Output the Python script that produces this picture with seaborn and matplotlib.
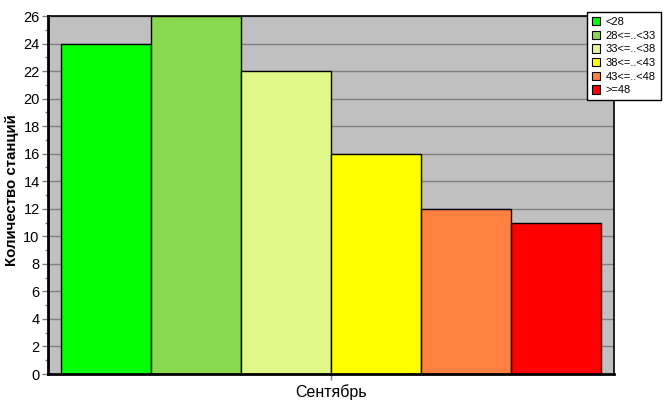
import matplotlib
matplotlib.use("Agg")
import matplotlib.pyplot as plt
import pandas as pd
import seaborn as sns
from matplotlib.ticker import MultipleLocator

# data
month = "Сентябрь"
ranges = ["<28", "28<=..<33", "33<=..<38", "38<=..<43", "43<=..<48", ">=48"]
counts = [24, 26, 22, 16, 12, 11]
colors = ["#00FF00", "#88D850", "#E0F888", "#FFFF00", "#FF8040", "#FF0000"]

df = pd.DataFrame({"month": [month] * len(ranges), "range": ranges, "count": counts})

sns.set_style("white")
plt.rcParams["font.family"] = ["Liberation Sans", "DejaVu Sans"]
plt.rcParams["text.color"] = "black"

fig = plt.figure(figsize=(6.67, 4.15), dpi=100)
ax = fig.add_axes([48 / 667, 1 - 374 / 415, (614 - 48) / 667, (374 - 16) / 415])
ax.set_facecolor("#C0C0C0")

sns.barplot(data=df, x="month", y="count", hue="range", palette=colors,
            width=540 / 566, gap=0, saturation=1, edgecolor="black",
            linewidth=1, ax=ax, legend=True)

ax.set_ylim(0, 26)
ax.set_xlim(-0.5, 0.5)
ax.yaxis.set_major_locator(MultipleLocator(2))
ax.yaxis.set_minor_locator(MultipleLocator(1))
ax.grid(axis="y", color="#808080", linewidth=1)
ax.set_axisbelow(True)

for s in ["top", "right"]:
    ax.spines[s].set_color("black")
    ax.spines[s].set_linewidth(1.2)
for s in ["left", "bottom"]:
    ax.spines[s].set_color("black")
    ax.spines[s].set_linewidth(2)

ax.tick_params(axis="y", which="major", direction="out", length=4, width=1,
               color="#808080", labelcolor="black", labelsize=10.5, pad=2, left=True)
ax.tick_params(axis="y", which="minor", direction="out", length=2, width=1,
               color="#808080", left=True)
ax.tick_params(axis="x", direction="out", length=4, width=1, color="#808080",
               labelcolor="black", labelsize=11.5, pad=3, bottom=True)

ax.set_xlabel("")
ax.set_ylabel("")
fig.text(12 / 667, 1 - 190 / 415, "Количество станций", rotation=90,
         ha="center", va="center", fontsize=10.8, fontweight="bold", color="black")

leg = ax.legend(loc="upper left", bbox_to_anchor=(587 / 667, 1 - 12 / 415),
                bbox_transform=fig.transFigure, fontsize=8, frameon=True,
                fancybox=False, edgecolor="black", framealpha=1,
                handlelength=0.75, handleheight=0.75, handletextpad=0.5,
                labelspacing=0.33, borderpad=0.45, borderaxespad=0)
leg.get_frame().set_linewidth(1)
for h in leg.legend_handles:
    h.set_edgecolor("black")
    h.set_linewidth(0.8)
for t in leg.get_texts():
    t.set_color("black")

fig.savefig("out.png", dpi=100)
